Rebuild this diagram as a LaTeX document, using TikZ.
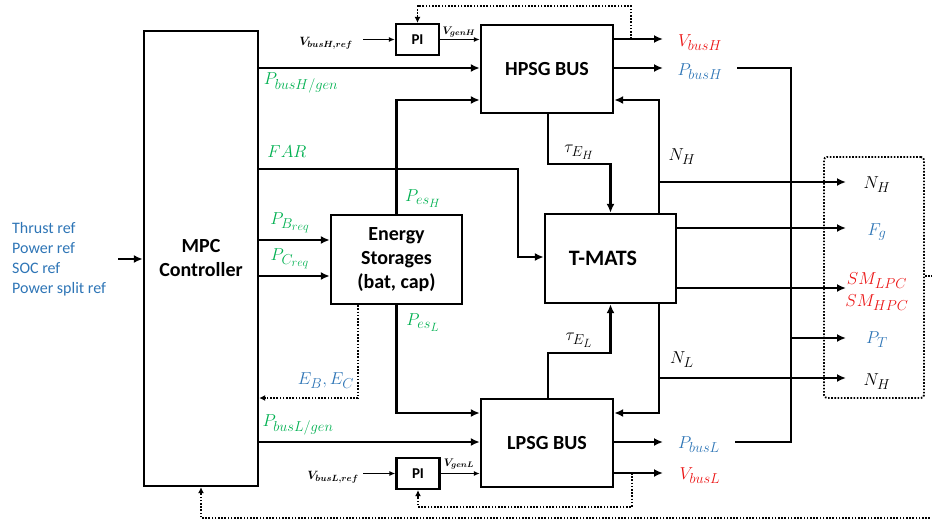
\documentclass[tikz,border=0pt]{standalone}
\usepackage{fontspec}
\setmainfont{Carlito}
\usepackage{amsmath}
\usepackage{bm}
\usepackage{xcolor}
\usetikzlibrary{arrows.meta}
\DeclareMathSizes{19}{19}{15}{12}
\definecolor{sigGreen}{RGB}{0,176,80}
\definecolor{sigBlue}{RGB}{46,117,182}
\definecolor{sigRed}{RGB}{235,20,20}

\begin{document}
\begin{tikzpicture}[x=1pt, y=-1pt, >={Latex[length=9pt,width=8pt]}, every node/.style={font=\fontsize{19}{22}\selectfont}]
  \tikzstyle{blk}=[draw, line width=2.4pt, align=center, inner sep=0pt, font=\fontsize{20}{24}\selectfont\bfseries]
  \tikzstyle{pibox}=[draw, line width=2.2pt, minimum width=43pt, minimum height=31pt, inner sep=0pt, font=\fontsize{15}{18}\selectfont\bfseries]
  \tikzstyle{sig}=[line width=2.4pt]
  \tikzstyle{refsig}=[line width=1.2pt, >={Latex[length=6pt,width=5pt]}]
  \tikzstyle{fb}=[line width=1.8pt, dash pattern=on 1.6pt off 1.6pt, >={Latex[length=6pt,width=6pt]}]
  \tikzstyle{reflab}=[font=\fontsize{13}{15}\selectfont]
  \tikzstyle{genlab}=[font=\fontsize{11}{13}\selectfont]
  \useasboundingbox (0,0) rectangle (932,522);
  % blocks
  \node[blk, minimum width=114pt, minimum height=455pt] (mpc) at (201,258.5) {MPC\\Controller};
  \node[blk, minimum width=132pt, minimum height=88pt] (hpsg) at (547,69) {HPSG BUS};
  \node[blk, minimum width=132pt, minimum height=88pt] (lpsg) at (547,443) {LPSG BUS};
  \node[blk, minimum width=131pt, minimum height=89pt] (es) at (396.5,259.5) {Energy\\Storages\\(bat, cap)};
  \node[blk, minimum width=131pt, minimum height=89pt] (tmats) at (610.5,258.5) {};
  \node[font=\fontsize{22}{24}\selectfont\bfseries] (tmatsname) at (603,258.5) {T-MATS};
  \node[pibox] (pih) at (417.5,39.5) {PI};
  \node[pibox] (pil) at (418,473.5) {PI};
  \node[draw, fb, rounded corners=3pt, minimum width=100pt, minimum height=241pt] (outbox) at (874,277.5) {};
  \coordinate (outx) at (846,0);
  \coordinate (busx) at (663,0);
  % references
  \node[anchor=west, align=left, inner sep=0pt, text=sigBlue, font=\fontsize{16}{20}\selectfont] (refs) at (12,259)
    {Thrust ref\\Power ref\\SOC ref\\Power split ref};
  \draw[->, sig] ([xshift=12pt]refs.east) -- (mpc.west |- refs.east);
  % MPC outputs
  \draw[->, sig] (mpc.east |- 0,68) -- (hpsg.west |- 0,68);
  \node[text=sigGreen] (pbhg) at (301,83) {$P_{busH/gen}$};
  \draw[->, sig] (mpc.east |- 0,169) -- (518,169) -- (518,257) -- (tmats.west |- 0,257);
  \node[text=sigGreen] (far) at (287,152) {$FAR$};
  \foreach \y in {240,276}{
    \draw[->, sig] (mpc.east |- 0,\y) -- (es.west |- 0,\y);
  }
  \node[text=sigGreen] (pbr) at (290,223) {$P_{B_{req}}$};
  \node[text=sigGreen] (pcr) at (290,259) {$P_{C_{req}}$};
  \draw[->, sig] (mpc.east |- 0,442) -- (lpsg.west |- 0,442);
  \node[text=sigGreen] (pblg) at (298,425) {$P_{busL/gen}$};
  % energy storages
  \draw[->, sig] (es.north) |- (hpsg.west |- 0,100);
  \node[text=sigGreen] (pesh) at (423,199) {$P_{es_H}$};
  \draw[->, sig] (es.south) |- (lpsg.west |- 0,413);
  \node[text=sigGreen] (pesl) at (423,323) {$P_{es_L}$};
  \draw[->, fb] (es.south -| 358,0) -- (358,398) -- (mpc.east |- 0,398);
  \node[text=sigBlue] (ebc) at (326,381) {$E_B, E_C$};
  % PI loops
  \node[reflab] (vhref) at (326,43) {$\boldsymbol{V_{busH,ref}}$};
  \draw[->, refsig] (363,0 |- pih.west) -- (pih.west);
  \draw[->, refsig] (pih.east) -- (hpsg.west |- pih.east);
  \node[genlab] (vgh) at (459,32) {$\boldsymbol{V_{genH}}$};
  \node[reflab] (vlref) at (333,477) {$\boldsymbol{V_{busL,ref}}$};
  \draw[->, refsig] (363,0 |- pil.west) -- (pil.west);
  \draw[->, refsig] (pil.east) -- (lpsg.west |- pil.east);
  \node[genlab] (vgl) at (459,464) {$\boldsymbol{V_{genL}}$};
  % bus outputs
  \foreach \y in {39,68}{
    \draw[->, sig] (hpsg.east |- 0,\y) -- (busx |- 0,\y);
  }
  \foreach \y in {442,473}{
    \draw[->, sig] (lpsg.east |- 0,\y) -- (busx |- 0,\y);
  }
  \node[text=sigRed] (vbh) at (700,43) {$V_{busH}$};
  \node[text=sigBlue] (pbh) at (700,72) {$P_{busH}$};
  \node[text=sigBlue] (pbl) at (699,445) {$P_{busL}$};
  \node[text=sigRed] (vbl) at (700,476) {$V_{busL}$};
  \draw[->, fb] (631,39) |- (pih.north |- 0,6) -- (pih.north);
  \draw[->, fb] (632,473) |- (pil.south |- 0,507) -- (pil.south);
  \draw[sig] (737,68) -- (791,68) -- (791,442) -- (735,442);
  \draw[->, sig] (791,338) -- (outx |- 0,338);
  % T-MATS
  \draw[->, sig] (hpsg.south -| 548,0) |- (tmats.north |- 0,164) -- (tmats.north);
  \node (teh) at (579,152) {$\tau_{E_H}$};
  \draw[->, sig] (lpsg.north -| 548,0) |- (tmats.south |- 0,353) -- (tmats.south);
  \node (tel) at (579,340) {$\tau_{E_L}$};
  \draw[->, sig] (tmats.north -| 659,0) -- (659,100) -- (hpsg.east |- 0,100);
  \draw[->, sig] (659,182) -- (outx |- 0,182);
  \node (nh) at (682,157) {$N_H$};
  \draw[->, sig] (tmats.south -| 659,0) -- (659,413) -- (lpsg.east |- 0,413);
  \draw[->, sig] (659,378) -- (outx |- 0,378);
  \node (nl) at (682,360) {$N_L$};
  \foreach \y in {228,288}{
    \draw[->, sig] (tmats.east |- 0,\y) -- (outx |- 0,\y);
  }
  % outputs
  \node (onh) at (877,185) {$N_H$};
  \node[text=sigBlue] (ofg) at (877,232) {$F_g$};
  \node[text=sigRed, align=center] (osm) at (877,292) {$SM_{LPC}$\\$SM_{HPC}$};
  \node[text=sigBlue] (opt) at (877,340) {$P_T$};
  \node (onl) at (877,382) {$N_H$};
  \draw[->, fb] (outbox.east |- 0,276) -- (936,276) -- (936,518) -- (mpc.south |- 0,518) -- (mpc.south);
\end{tikzpicture}
\end{document}
